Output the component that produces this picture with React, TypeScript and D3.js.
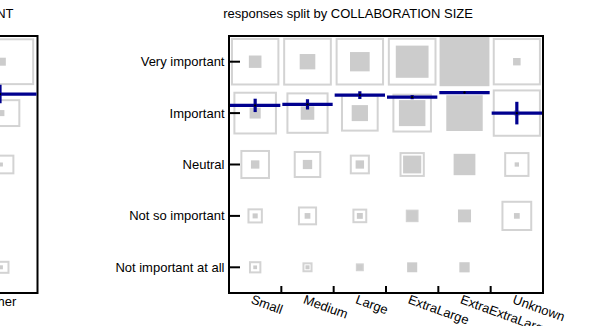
import React, { useRef, useEffect } from "react";
import * as d3 from "d3";

const sizes = ["Small", "Medium", "Large", "ExtraLarge", "ExtraExtraLarge", "Unknown"];
const answers = ["Very important", "Important", "Neutral", "Not so important", "Not important at all"];
const answerScores = [5, 4, 3, 2, 1];

// outline squares: share of the cell, one array per answer (columns = sizes)
const outlineVeryImportant = [0.99, 1.0, 0.99, 1.0, 1.0, 0.98];
const outlineImportant = [0.8, 0.75, 0.6, 0.66, 0.5, 0.98];
const outlineNeutral = [0.37, 0.32, 0.17, 0.27, 0.15, 0.27];
const outlineNotSo = [0.1, 0.155, 0.093, 0.069, 0.05, 0.4];
const outlineNotAtAll = [0.065, 0.043, 0.027, 0.03, 0.03, 0];

// filled squares
const fillVeryImportant = [0.067, 0.103, 0.163, 0.453, 1.05, 0.024];
const fillImportant = [0.052, 0.078, 0.112, 0.296, 0.56, 0.015];
const fillNeutral = [0.03, 0.037, 0.03, 0.139, 0.2, 0.008];
const fillNotSo = [0.011, 0.014, 0.015, 0.047, 0.072, 0.014];
const fillNotAtAll = [0.006, 0.007, 0.013, 0.043, 0.045, 0];

// mean answer score per size, with its error
const meanScore = [4.15, 4.17, 4.35, 4.31, 4.4, 4.0];
const meanError = [0.13, 0.1, 0.075, 0.04, 0.02, 0.22];

// the panel cut off on the left edge
const leftCategories = ["Other"];
const leftOutline = [[0.96], [0.34], [0.17], [0], [0.074]];
const leftFill = [[0.028], [0.016], [0.007], [0], [0.007]];
const leftMean = [4.37];
const leftError = [0.18];

const font = "'Liberation Sans', Arial, sans-serif";
const blue = "#00008f";

type Panel = {
    cats: string[];
    outline: number[][];
    fill: number[][];
    mean: number[];
    err: number[];
    xRange: [number, number];
    yLabels: boolean;
    rotateLabels: boolean;
};

const top = 36;
const bottom = 293;

function drawPanel(svg: d3.Selection<SVGSVGElement, unknown, null, undefined>, p: Panel) {
    const g = svg.append("g");
    const x = d3.scaleBand().domain(p.cats).range(p.xRange);
    const y = d3.scalePoint().domain(answers).range([top, bottom]).padding(0.5);
    const score = d3
        .scaleLinear()
        .domain([1, 5])
        .range([y(answers[4])!, y(answers[0])!]);
    const side = d3.scaleSqrt().domain([0, 1]).range([0, 0.93]);
    const bw = x.bandwidth();
    const step = y.step();

    const cells: { a: string; c: string; o: number; f: number }[] = [];
    answers.forEach((a, i) =>
        p.cats.forEach((c, j) => cells.push({ a, c, o: p.outline[i][j], f: p.fill[i][j] }))
    );

    g.selectAll("rect.outline")
        .data(cells.filter((d) => d.o > 0))
        .join("rect")
        .attr("class", "outline")
        .attr("x", (d) => x(d.c)! + bw / 2 - (side(d.o) * bw - 2) / 2)
        .attr("y", (d) => y(d.a)! - (side(d.o) * step - 2) / 2)
        .attr("width", (d) => Math.max(0, side(d.o) * bw - 2))
        .attr("height", (d) => Math.max(0, side(d.o) * step - 2))
        .attr("fill", "none")
        .attr("stroke", "#d3d3d3")
        .attr("stroke-width", 2);

    g.selectAll("rect.fill")
        .data(cells.filter((d) => d.f > 0))
        .join("rect")
        .attr("class", "fill")
        .attr("x", (d) => x(d.c)! + bw / 2 - (side(d.f) * bw) / 2)
        .attr("y", (d) => y(d.a)! - (side(d.f) * step) / 2)
        .attr("width", (d) => side(d.f) * bw)
        .attr("height", (d) => side(d.f) * step)
        .attr("fill", "#cccccc");

    // frame
    g.append("rect")
        .attr("x", p.xRange[0])
        .attr("y", top)
        .attr("width", p.xRange[1] - p.xRange[0])
        .attr("height", bottom - top)
        .attr("fill", "none")
        .attr("stroke", "#000")
        .attr("stroke-width", 2);

    // y ticks point inward
    g.selectAll("line.ytick")
        .data(answers)
        .join("line")
        .attr("class", "ytick")
        .attr("x1", p.xRange[0])
        .attr("x2", p.xRange[0] + 11)
        .attr("y1", (d) => y(d)!)
        .attr("y2", (d) => y(d)!)
        .attr("stroke", "#000")
        .attr("stroke-width", 2);

    if (p.yLabels) {
        g.selectAll("text.ylab")
            .data(answers)
            .join("text")
            .attr("class", "ylab")
            .attr("x", p.xRange[0] - 4.5)
            .attr("y", (d) => y(d)!)
            .attr("dy", "0.35em")
            .attr("text-anchor", "end")
            .attr("font-family", font)
            .attr("font-size", 13)
            .text((d) => d);
    }

    // x ticks between categories
    g.selectAll("line.xtick")
        .data(p.cats.slice(1))
        .join("line")
        .attr("class", "xtick")
        .attr("x1", (d) => x(d)!)
        .attr("x2", (d) => x(d)!)
        .attr("y1", bottom)
        .attr("y2", bottom - 7)
        .attr("stroke", "#000")
        .attr("stroke-width", 2);

    const labels = g
        .selectAll("text.xlab")
        .data(p.cats)
        .join("text")
        .attr("class", "xlab")
        .attr("font-family", font)
        .attr("font-size", 13)
        .text((d) => d);
    if (p.rotateLabels) {
        labels
            .attr("transform", (d) => `translate(${x(d)! + bw / 2 - 5},303) rotate(20)`)
            .attr("text-anchor", "start");
    } else {
        labels
            .attr("x", (d) => x(d)! + bw / 2)
            .attr("y", 306)
            .attr("text-anchor", "middle");
    }

    // means with error bars
    const means = p.cats.map((c, i) => ({ c, m: p.mean[i], e: p.err[i] }));
    g.selectAll("line.meanbar")
        .data(means)
        .join("line")
        .attr("class", "meanbar")
        .attr("x1", (d) => x(d.c)! + 1)
        .attr("x2", (d) => x(d.c)! + bw - 1)
        .attr("y1", (d) => score(d.m))
        .attr("y2", (d) => score(d.m))
        .attr("stroke", blue)
        .attr("stroke-width", 3.2);
    g.selectAll("line.err")
        .data(means)
        .join("line")
        .attr("class", "err")
        .attr("x1", (d) => x(d.c)! + bw / 2)
        .attr("x2", (d) => x(d.c)! + bw / 2)
        .attr("y1", (d) => score(d.m - d.e))
        .attr("y2", (d) => score(d.m + d.e))
        .attr("stroke", blue)
        .attr("stroke-width", 3.2);
    g.selectAll("circle.dot")
        .data(means)
        .join("circle")
        .attr("class", "dot")
        .attr("cx", (d) => x(d.c)! + bw / 2)
        .attr("cy", (d) => score(d.m))
        .attr("r", 1.2)
        .attr("fill", "#000");
}

export const ImportanceChart = () => {
    const svgRef = useRef<SVGSVGElement>(null);

    useEffect(() => {
        if (!svgRef.current) return;
        const svg = d3.select(svgRef.current);
        svg.selectAll("*").remove();

        drawPanel(svg, {
            cats: leftCategories,
            outline: leftOutline,
            fill: leftFill,
            mean: leftMean,
            err: leftError,
            xRange: [-37.5, 37.5],
            yLabels: false,
            rotateLabels: false,
        });

        drawPanel(svg, {
            cats: sizes,
            outline: [outlineVeryImportant, outlineImportant, outlineNeutral, outlineNotSo, outlineNotAtAll],
            fill: [fillVeryImportant, fillImportant, fillNeutral, fillNotSo, fillNotAtAll],
            mean: meanScore,
            err: meanError,
            xRange: [229, 543],
            yLabels: true,
            rotateLabels: true,
        });

        svg.append("text")
            .attr("x", 13.5)
            .attr("y", 17.5)
            .attr("text-anchor", "end")
            .attr("font-family", font)
            .attr("font-size", 13)
            .text("NT");

        svg.append("text")
            .attr("x", 348)
            .attr("y", 17.5)
            .attr("text-anchor", "middle")
            .attr("font-family", font)
            .attr("font-size", 13)
            .text("responses split by COLLABORATION SIZE");
    }, []);

    return (
        <svg
            ref={svgRef}
            width={589}
            height={326}
            style={{ position: "absolute", left: 0, top: 0, background: "#fff" }}
        />
    );
};

export default function App() {
    return <ImportanceChart />;
}
